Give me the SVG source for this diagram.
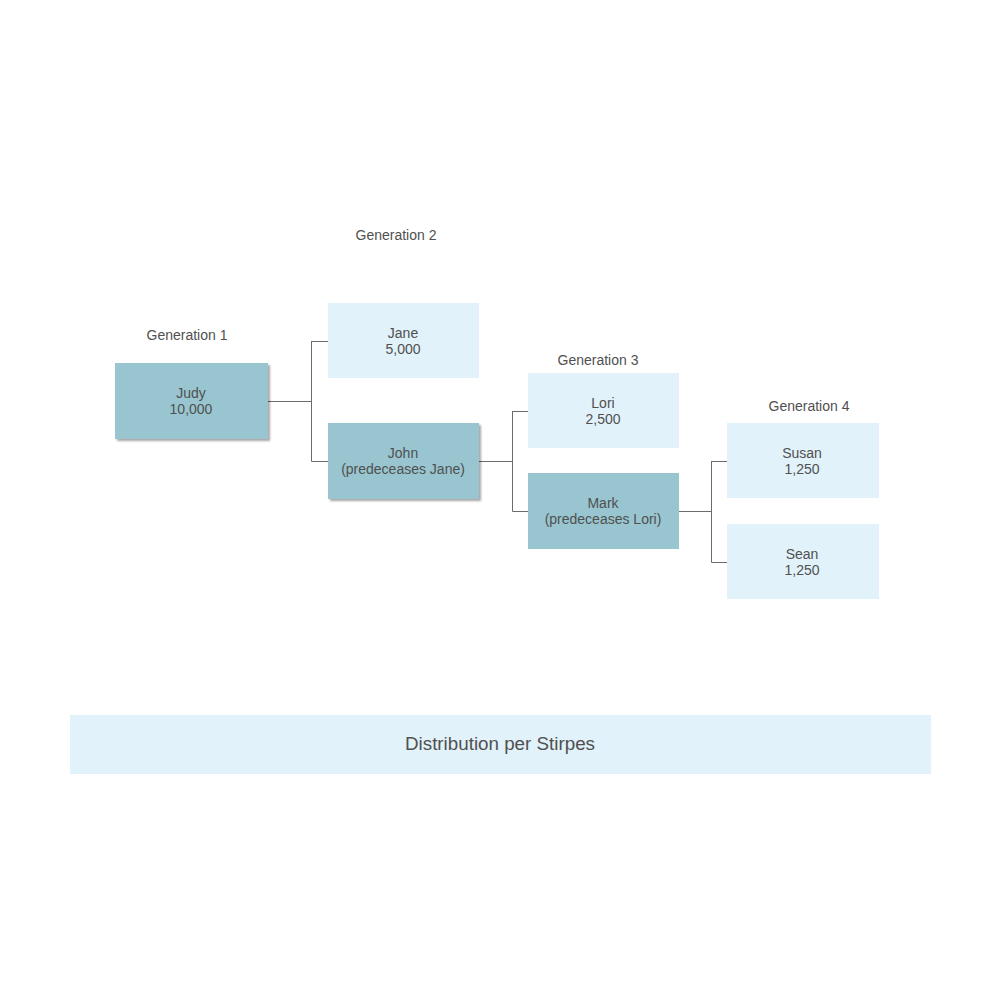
<svg xmlns="http://www.w3.org/2000/svg" width="1000" height="1000" viewBox="0 0 1000 1000">
<defs>
<filter id="sh" x="-10%" y="-10%" width="130%" height="130%">
<feGaussianBlur in="SourceAlpha" stdDeviation="1.2"/>
<feOffset dx="1.5" dy="1.5" result="b"/>
<feComponentTransfer><feFuncA type="linear" slope="0.35"/></feComponentTransfer>
<feMerge><feMergeNode/><feMergeNode in="SourceGraphic"/></feMerge>
</filter>
</defs>
<style>
.dark{fill:#98C5CF;}
.light{fill:#E1F2FA;}
.t{font-family:"Liberation Sans",Arial,sans-serif;font-size:14px;fill:#505050;text-anchor:middle;}
.c{fill:none;stroke:#6B6B6B;stroke-width:1;}
</style>
<rect width="1000" height="1000" fill="#FFFFFF"/>
<g id="labels">
<text class="t" x="187" y="340">Generation 1</text>
<text class="t" x="396" y="240">Generation 2</text>
<text class="t" x="598" y="365">Generation 3</text>
<text class="t" x="809" y="411">Generation 4</text>
</g>
<g id="connectors">
<path class="c" d="M268,401.5H311.5M311.5,341V461.5H328M311.5,341.5H328"/>
<path class="c" d="M479,461.5H512.5M512.5,411V511.5H528M512.5,411.5H528"/>
<path class="c" d="M679,511.5H711.5M711.5,461V562.5H727M711.5,461.5H727"/>
</g>
<g id="judy"><rect class="dark" x="115" y="363" width="153" height="76" filter="url(#sh)"/><text class="t" x="191" y="398">Judy</text><text class="t" x="191" y="414">10,000</text></g>
<g id="jane"><rect class="light" x="328" y="303" width="151" height="75"/><text class="t" x="403" y="338">Jane</text><text class="t" x="403" y="354">5,000</text></g>
<g id="john"><rect class="dark" x="328" y="423" width="151" height="76" filter="url(#sh)"/><text class="t" x="403" y="458">John</text><text class="t" x="403" y="474">(predeceases Jane)</text></g>
<g id="lori"><rect class="light" x="528" y="373" width="151" height="75"/><text class="t" x="603" y="408">Lori</text><text class="t" x="603" y="424">2,500</text></g>
<g id="mark"><rect class="dark" x="528" y="473" width="151" height="76"/><text class="t" x="603" y="508">Mark</text><text class="t" x="603" y="524">(predeceases Lori)</text></g>
<g id="susan"><rect class="light" x="727" y="423" width="152" height="75"/><text class="t" x="802" y="458">Susan</text><text class="t" x="802" y="474">1,250</text></g>
<g id="sean"><rect class="light" x="727" y="524" width="152" height="75"/><text class="t" x="802" y="559">Sean</text><text class="t" x="802" y="575">1,250</text></g>
<g id="title"><rect class="light" x="70" y="715" width="861" height="59"/><text class="t" x="500" y="750" style="font-size:18.8px">Distribution per Stirpes</text></g>
</svg>
